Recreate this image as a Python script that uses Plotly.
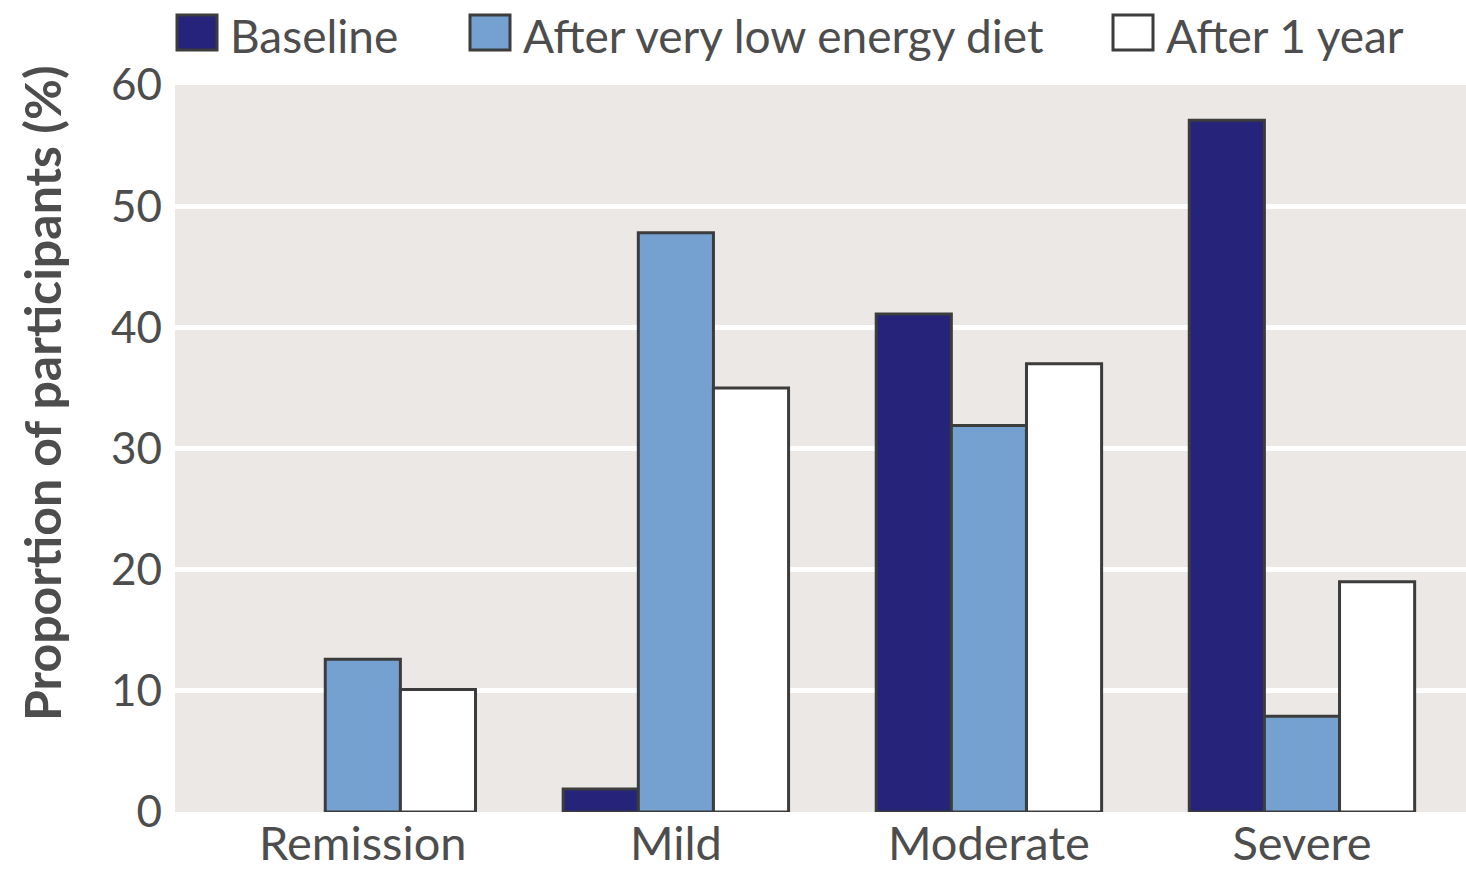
import plotly.graph_objects as go

categories = ["Remission", "Mild", "Moderate", "Severe"]
series_names = ["Baseline", "After very low energy diet", "After 1 year"]
baseline = [0, 1.9, 41.1, 57.1]
after_vled = [12.6, 47.8, 31.9, 7.9]
after_1yr = [10.1, 35.0, 37.0, 19.0]
y_ticks = [0, 10, 20, 30, 40, 50, 60]

colors = ["#25237a", "#74a1d0", "#ffffff"]
edge = "#3c3c3c"
FONT = "Lato"
TXT = "#4d4d4d"

fig = go.Figure()
for name, vals, col in zip(series_names, [baseline, after_vled, after_1yr], colors):
    fig.add_trace(go.Bar(
        x=categories, y=[v if v > 0 else None for v in vals], name=name,
        marker=dict(color=col, line=dict(color=edge, width=3)),
        showlegend=False,
    ))

# plot area: x 175..1466, y 85..812 (page px)
PL, PR, PT, PB = 175, 1466, 85, 812
PW, PH = PR - PL, PB - PT
sw_x = [177, 470, 1113]
for name, col, sx in zip(series_names, colors, sw_x):
    fig.add_shape(type="rect", xref="paper", yref="paper",
                  x0=(sx - PL) / PW, x1=(sx + 40 - PL) / PW,
                  y0=(PB - 50) / PH, y1=(PB - 15) / PH,
                  fillcolor=col, line=dict(color=edge, width=3))
    fig.add_annotation(xref="paper", yref="paper",
                       x=(sx + 52 - PL) / PW, y=(PB - 36) / PH,
                       text=name, showarrow=False, xanchor="left", yanchor="middle",
                       borderpad=0, font=dict(family=FONT, size=46, color=TXT))

fig.add_annotation(xref="paper", yref="paper", x=(42 - PL) / PW, y=(PB - 393) / PH,
                   text="<b>Proportion of participants (%)</b>", textangle=-90,
                   showarrow=False, xanchor="center", yanchor="middle", borderpad=0,
                   font=dict(family=FONT, size=50, color=TXT))

fig.update_layout(
    width=1466, height=873,
    margin=dict(l=PL, r=1466 - PR, t=PT, b=873 - PB),
    paper_bgcolor="white", plot_bgcolor="#ebe8e6",
    barmode="group", bargap=0.28, bargroupgap=0,
    font=dict(family=FONT, size=44, color=TXT),
    xaxis=dict(range=[-0.6, 3.524], showgrid=False, zeroline=False, showline=False,
               ticks="", tickfont=dict(size=47, color=TXT)),
    yaxis=dict(range=[0, 60], tickvals=y_ticks, showgrid=True, gridcolor="white",
               gridwidth=5, zeroline=False, showline=False, ticks="",
               ticklabelstandoff=12, tickfont=dict(size=44, color=TXT)),
)

fig.write_html("out.html", config={"displayModeBar": False},
               post_script="document.body.style.margin='0px';document.body.style.overflow='hidden';")
